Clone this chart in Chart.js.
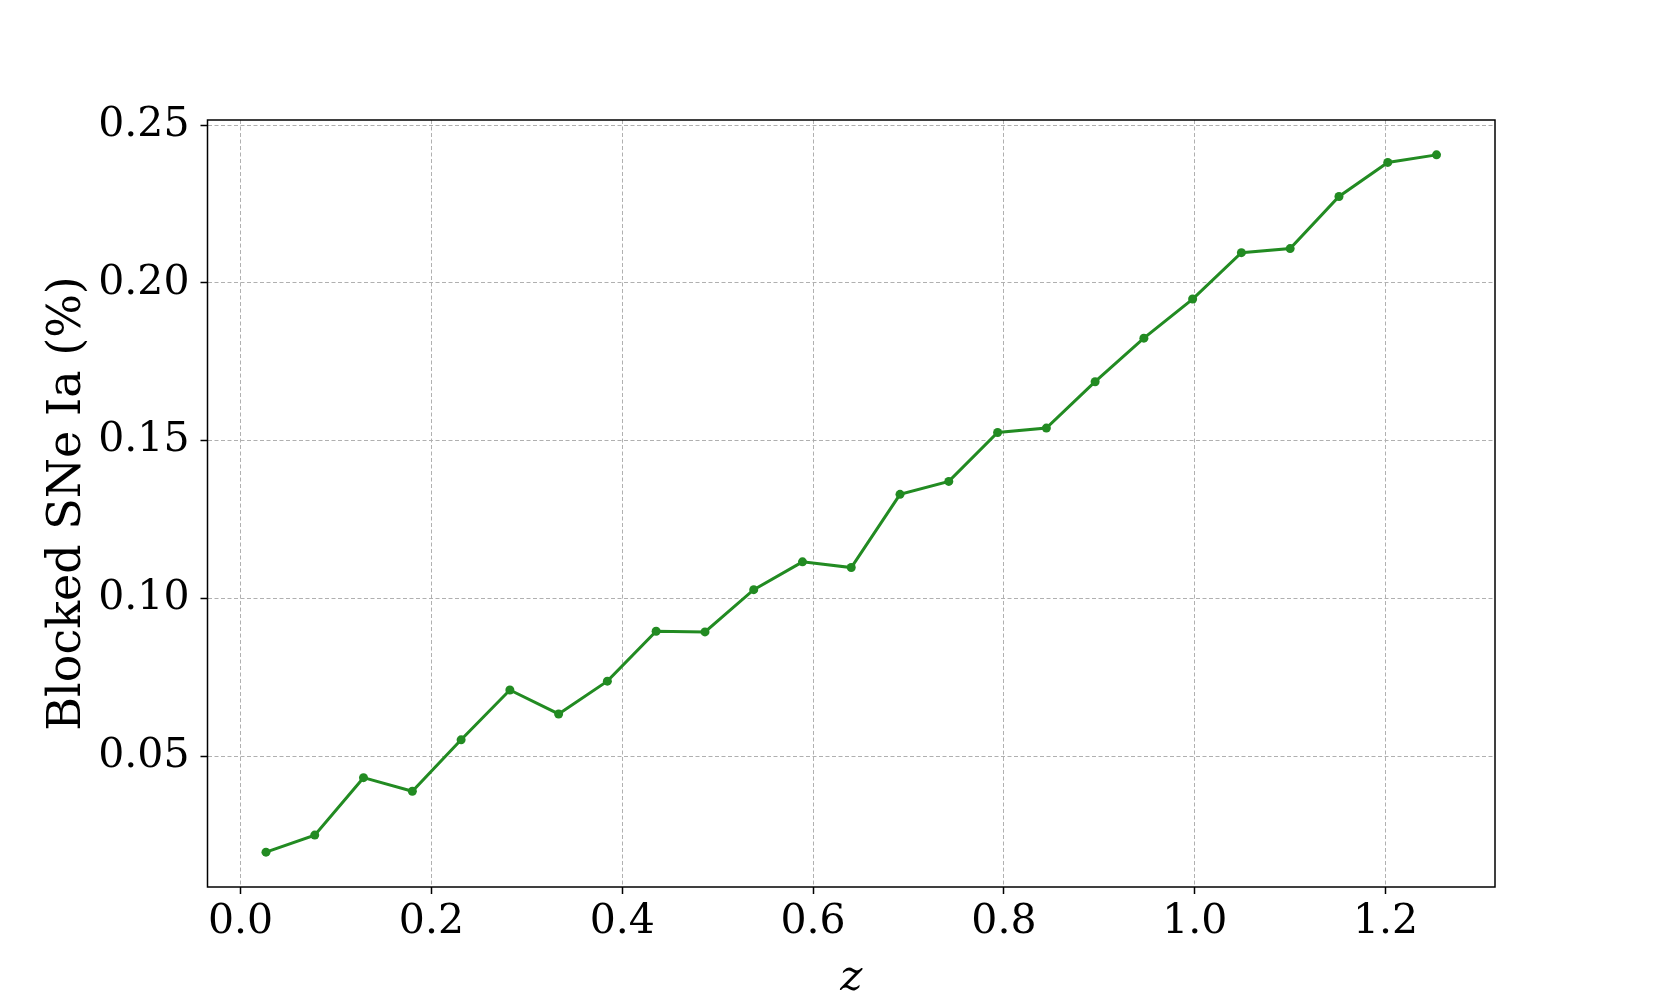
<!DOCTYPE html>
<html>
<head>
<meta charset="utf-8">
<script src="https://cdn.jsdelivr.net/npm/chart.js@4"></script>
<style>
  body { margin: 0; background: #fff; }
  canvas { display: block; }
</style>
</head>
<body>
<canvas id="lineChart" width="1661" height="997"></canvas>
<script>
// redshift bin centres and fraction of blocked SNe Ia
const zValues = [0.0266, 0.0777, 0.1288, 0.1800, 0.2311, 0.2822, 0.3333, 0.3844, 0.4355,
  0.4867, 0.5378, 0.5889, 0.6400, 0.6911, 0.7422, 0.7934, 0.8445, 0.8956, 0.9467,
  0.9978, 1.0489, 1.1000, 1.1512, 1.2023, 1.2534];
const blocked = [0.0196, 0.0250, 0.0432, 0.0389, 0.0552, 0.0710, 0.0634, 0.0738, 0.0896,
  0.0894, 0.1028, 0.1116, 0.1098, 0.1330, 0.1371, 0.1526, 0.1540, 0.1687, 0.1825,
  0.1949, 0.2096, 0.2109, 0.2274, 0.2382, 0.2406];

const xTicks = [0.0, 0.2, 0.4, 0.6, 0.8, 1.0, 1.2];
const yTicks = [0.05, 0.10, 0.15, 0.20, 0.25];

const serif = "'DejaVu Serif', serif";
const gridColor = "#b0b0b0";

// box around the plot area (matplotlib style spines)
const frame = {
  id: "frame",
  afterDatasetsDraw(chart) {
    const { ctx, chartArea: a } = chart;
    ctx.save();
    ctx.strokeStyle = "#000";
    ctx.lineWidth = 1.5;
    ctx.strokeRect(a.left, a.top, a.right - a.left, a.bottom - a.top);
    ctx.restore();
  },
};

const ctx = document.getElementById("lineChart");

new Chart(ctx, {
  type: "line",
  data: {
    datasets: [
      {
        data: zValues.map((z, i) => ({ x: z, y: blocked[i] })),
        borderColor: "#228b22",
        backgroundColor: "#228b22",
        borderWidth: 3,
        pointRadius: 4.5,
        pointHoverRadius: 4.5,
        pointBorderWidth: 0,
        tension: 0,
      },
    ],
  },
  plugins: [frame],
  options: {
    responsive: false,
    animation: false,
    layout: { padding: { left: 0, right: 166, top: 120, bottom: 0 } },
    plugins: { legend: { display: false }, tooltip: { enabled: false } },
    scales: {
      x: {
        type: "linear",
        min: -0.0347,
        max: 1.3147,
        afterBuildTicks: (s) => { s.ticks = xTicks.map((v) => ({ value: v })); },
        afterFit: (s) => { s.height = 110; },
        ticks: {
          callback: (v) => v.toFixed(1),
          color: "#000",
          font: { family: serif, size: 41 },
          padding: 4,
          maxRotation: 0,
        },
        grid: {
          color: gridColor,
          lineWidth: 1,
          borderDash: [4, 2.5],
          tickColor: "#000",
          tickLength: 7,
          tickWidth: 1.5,
          tickBorderDash: [],
        },
        border: { display: false, dash: [4, 2.5] },
        title: {
          display: true,
          text: "z",
          color: "#000",
          font: { family: serif, size: 42, style: "italic", lineHeight: 0.8 },
          padding: { top: 0, bottom: 1 },
        },
      },
      y: {
        type: "linear",
        min: 0.00855,
        max: 0.25165,
        afterBuildTicks: (s) => { s.ticks = yTicks.map((v) => ({ value: v })); },
        afterFit: (s) => { s.width = 207.5; },
        ticks: {
          callback: (v) => v.toFixed(2),
          color: "#000",
          font: { family: serif, size: 41 },
          padding: 11,
        },
        grid: {
          color: gridColor,
          lineWidth: 1,
          borderDash: [4, 2.5],
          tickColor: "#000",
          tickLength: 7,
          tickWidth: 1.5,
          tickBorderDash: [],
        },
        border: { display: false, dash: [4, 2.5] },
        title: {
          display: true,
          text: "Blocked SNe Ia (%)",
          color: "#000",
          font: { family: serif, size: 46, lineHeight: 1.2 },
          padding: { top: 40, bottom: 0 },
        },
      },
    },
  },
});
</script>
</body>
</html>
